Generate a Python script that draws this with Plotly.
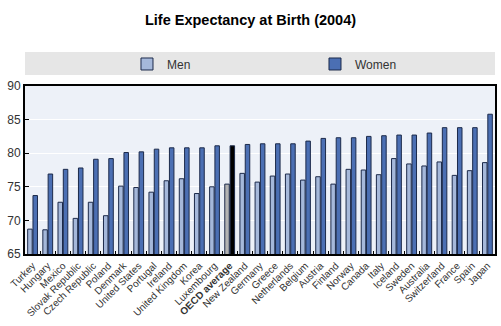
import plotly.graph_objects as go

countries = ["Turkey", "Hungary", "Mexico", "Slovak Republic", "Czech Republic", "Poland",
             "Denmark", "United States", "Portugal", "Ireland", "United Kingdom", "Korea",
             "Luxembourg", "OECD average", "New Zealand", "Germany", "Greece", "Netherlands",
             "Belgium", "Austria", "Finland", "Norway", "Canada", "Italy", "Iceland", "Sweden",
             "Australia", "Switzerland", "France", "Spain", "Japan"]
men = [68.7, 68.6, 72.7, 70.3, 72.7, 70.7, 75.1, 74.9, 74.2, 75.9, 76.2, 74.0,
       75.0, 75.4, 77.0, 75.7, 76.6, 76.9, 76.0, 76.5, 75.4, 77.6, 77.5, 76.8,
       79.2, 78.4, 78.1, 78.7, 76.7, 77.4, 78.6]
women = [73.7, 76.9, 77.6, 77.8, 79.1, 79.2, 80.1, 80.2, 80.6, 80.8, 80.8, 80.8,
         81.1, 81.1, 81.3, 81.4, 81.4, 81.4, 81.8, 82.2, 82.3, 82.3, 82.5, 82.6,
         82.7, 82.7, 83.0, 83.8, 83.8, 83.8, 85.8]

HL = "OECD average"
men_colors = ["#b3b3b3" if c == HL else "#a5b8da" for c in countries]
women_colors = ["#000000" if c == HL else "#4b6fb3" for c in countries]
tick_text = ["<b>%s</b>" % c if c == HL else c for c in countries]

font = "Liberation Sans Narrow, Liberation Sans, Arial, sans-serif"
legend_style = dict(orientation="h", xanchor="left", y=1.131, yanchor="middle",
                    bgcolor="rgba(0,0,0,0)",
                    font=dict(size=12, color="#333333", family=font))

fig = go.Figure()
fig.add_bar(x=countries, y=men, name="Men", legend="legend",
            marker=dict(color=men_colors, line=dict(color="#1c2a4a", width=1)))
fig.add_bar(x=countries, y=women, name="Women", legend="legend2",
            marker=dict(color=women_colors, line=dict(color="#1c2a4a", width=1)))

fig.update_layout(
    width=501, height=326,
    margin=dict(l=25, r=6, t=86, b=72),
    paper_bgcolor="white",
    plot_bgcolor="#edf1f8",
    barmode="group",
    bargap=0.3,
    bargroupgap=0.15,
    font=dict(family=font, color="#333333"),
    title=dict(text="<b>Life Expectancy at Birth (2004)</b>", x=0.5, xanchor="center",
               y=0.94, yanchor="middle", font=dict(size=14.5, color="#000000", family=font)),
    showlegend=True,
    legend=dict(x=0.217, **legend_style),
    legend2=dict(x=0.617, **legend_style),
    shapes=[dict(type="rect", xref="paper", yref="paper", x0=0, x1=1, y0=1.065, y1=1.202,
                 fillcolor="#e6e6e6", line=dict(width=0), layer="below")],
)
fig.update_xaxes(
    tickmode="array", tickvals=countries, ticktext=tick_text, automargin=False,
    tickangle=-45, tickfont=dict(size=10, color="#333333", family=font),
    ticks="inside", tickson="boundaries", ticklen=3, tickcolor="#000000",
    showline=True, linecolor="#000000", linewidth=2, mirror=True,
    showgrid=False,
)
fig.update_yaxes(
    range=[65, 90], dtick=5, tickfont=dict(size=12, color="#333333", family=font),
    ticks="inside", ticklen=4, tickcolor="#000000", automargin=False,
    showline=True, linecolor="#000000", linewidth=2, mirror=True,
    showgrid=True, gridcolor="#ffffff", gridwidth=1, zeroline=False,
)

fig.write_html("out.html")
